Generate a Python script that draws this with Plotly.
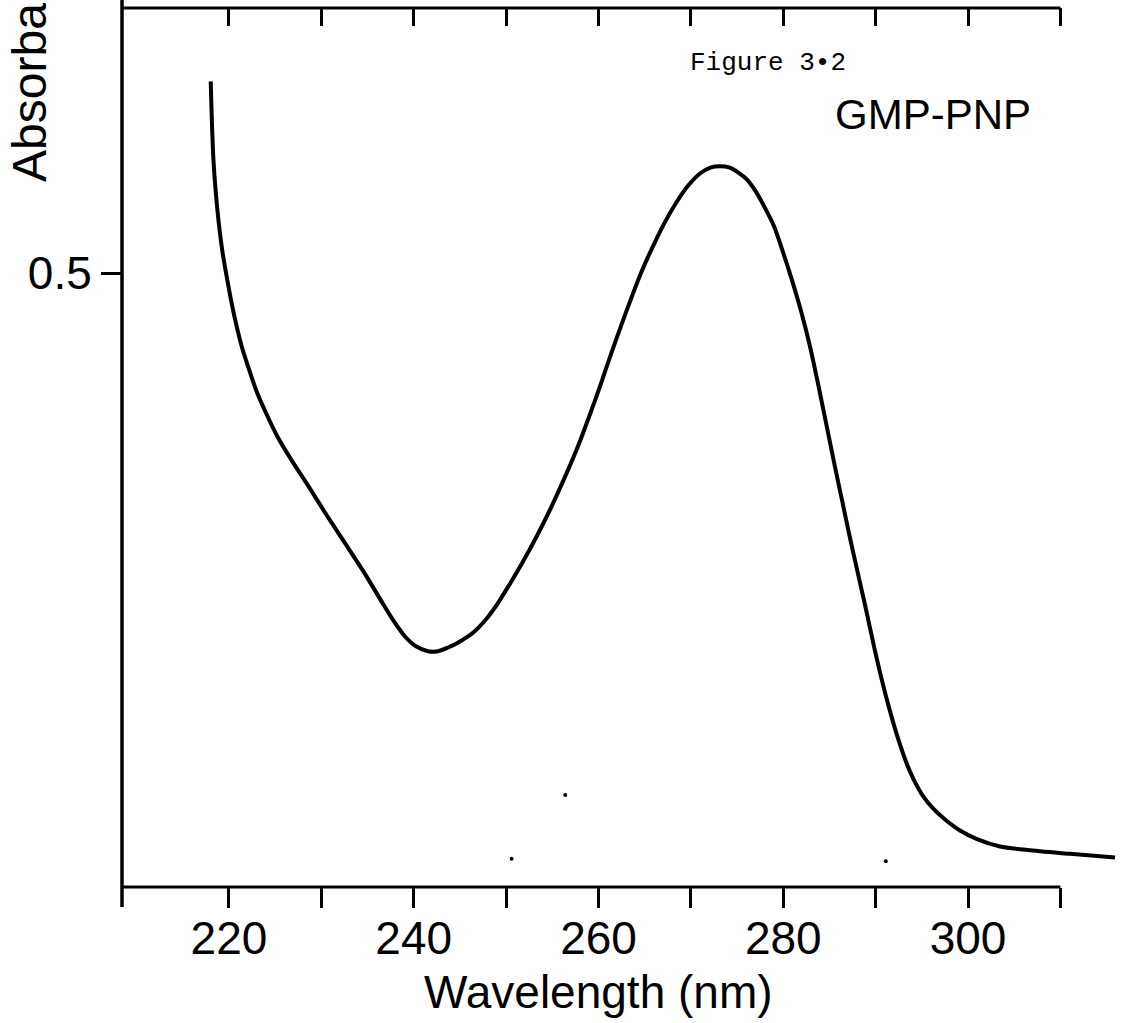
import plotly.graph_objects as go

# Spectrum
wavelength_nm = [218.02, 218.16, 218.32, 218.59, 218.92, 219.30, 219.73, 220.22, 220.76, 221.35,
                 222.06, 222.92, 224.01, 225.30, 226.82, 228.55, 230.39, 232.56, 234.72, 236.56,
                 237.97, 239.05, 240.24, 241.54, 242.63, 243.71, 245.01, 246.41, 247.71, 249.01,
                 250.42, 251.83, 253.34, 254.86, 256.37, 257.78, 259.08, 260.27, 261.35, 262.44,
                 263.52, 264.60, 265.79, 267.09, 268.39, 269.69, 270.99, 272.18, 273.15, 274.13,
                 275.10, 276.08, 277.05, 278.02, 279.00, 279.97, 280.95, 281.92, 282.90, 283.76,
                 284.63, 285.49, 286.36, 287.23, 288.09, 288.96, 289.82, 290.69, 291.56, 292.42,
                 293.29, 294.15, 295.13, 296.21, 297.51, 299.13, 300.97, 303.46, 306.71, 311.04,
                 315.91]
absorbance = [0.656, 0.621, 0.592, 0.564, 0.539, 0.517, 0.498, 0.478, 0.459, 0.441,
              0.424, 0.405, 0.386, 0.366, 0.347, 0.327, 0.305, 0.280, 0.255, 0.232,
              0.215, 0.204, 0.196, 0.192, 0.192, 0.195, 0.200, 0.207, 0.217, 0.230,
              0.247, 0.265, 0.286, 0.309, 0.334, 0.359, 0.385, 0.410, 0.434, 0.457,
              0.479, 0.500, 0.520, 0.540, 0.557, 0.571, 0.581, 0.586, 0.587, 0.586,
              0.582, 0.576, 0.566, 0.553, 0.538, 0.517, 0.494, 0.469, 0.440, 0.410,
              0.378, 0.346, 0.315, 0.284, 0.255, 0.226, 0.196, 0.168, 0.143, 0.121,
              0.102, 0.087, 0.074, 0.064, 0.055, 0.046, 0.039, 0.033, 0.030, 0.027,
              0.024]

# stray specks on the scanned page
speck_x = [256.4, 250.6, 291.1]
speck_y = [0.075, 0.023, 0.021]

x_ticks = [220, 230, 240, 250, 260, 270, 280, 290, 300, 310]
x_ticktext = ["220", "", "240", "", "260", "", "280", "", "300", ""]
y_ticks = [0.5]
y_ticktext = ["0.5"]

X_RANGE = [208.42, 316.45]
Y_RANGE = [0.0, 0.7158]
AXIS_END = 310

SANS = "Liberation Sans, Arial, sans-serif"
MONO = "Courier New, Liberation Mono, monospace"

fig = go.Figure()
fig.add_trace(go.Scatter(x=wavelength_nm, y=absorbance, mode="lines",
                         line=dict(color="black", width=4, shape="spline", smoothing=0.8),
                         hoverinfo="skip"))
fig.add_trace(go.Scatter(x=speck_x, y=speck_y, mode="markers",
                         marker=dict(color="black", size=4), hoverinfo="skip"))
# invisible trace for the top axis
fig.add_trace(go.Scatter(x=[X_RANGE[0]], y=[Y_RANGE[0]], xaxis="x2", mode="markers",
                         marker=dict(opacity=0), hoverinfo="skip"))

fig.update_layout(
    width=1122, height=1023,
    margin=dict(l=122, r=2, t=8, b=136),
    paper_bgcolor="white", plot_bgcolor="white",
    showlegend=False,
    xaxis=dict(range=X_RANGE, showgrid=False, zeroline=False, showline=False,
               ticks="outside", ticklen=20, tickwidth=3, tickcolor="black",
               tickmode="array", tickvals=x_ticks, ticktext=x_ticktext,
               ticklabelstandoff=-9,
               tickfont=dict(family=SANS, size=46, color="black")),
    xaxis2=dict(range=X_RANGE, overlaying="x", side="top", showgrid=False, zeroline=False,
                showline=False, ticks="inside", ticklen=18, tickwidth=3, tickcolor="black",
                tickmode="array", tickvals=x_ticks, showticklabels=False),
    yaxis=dict(range=Y_RANGE, showgrid=False, zeroline=False, showline=False,
               ticks="outside", ticklen=20, tickwidth=3, tickcolor="black",
               tickmode="array", tickvals=y_ticks, ticktext=y_ticktext,
               tickfont=dict(family=SANS, size=46, color="black")),
    shapes=[
        dict(type="line", xref="paper", yref="paper", x0=0, x1=0, y0=-0.0228, y1=1.0091,
             line=dict(color="black", width=3.5)),
        dict(type="line", xref="x", yref="paper", x0=X_RANGE[0], x1=AXIS_END, y0=0, y1=0,
             line=dict(color="black", width=3)),
        dict(type="line", xref="x", yref="paper", x0=X_RANGE[0], x1=AXIS_END, y0=1, y1=1,
             line=dict(color="black", width=3)),
    ],
    annotations=[
        dict(text="Absorbance", xref="paper", yref="paper", x=-0.0922, y=0.9477,
             textangle=-90, showarrow=False, xanchor="center", yanchor="middle",
             font=dict(family=SANS, size=48, color="black")),
        dict(text="Wavelength (nm)", xref="x", yref="paper", x=260.05, y=-0.1190,
             showarrow=False, xanchor="center", yanchor="middle",
             font=dict(family=SANS, size=46, color="black")),
        dict(text="Figure 3•2", xref="x", yref="paper", x=269.69, y=0.9374,
             showarrow=False, xanchor="left", yanchor="middle",
             font=dict(family=MONO, size=26, color="black")),
        dict(text="GMP-PNP", xref="x", yref="paper", x=285.39, y=0.8783,
             showarrow=False, xanchor="left", yanchor="middle",
             font=dict(family=SANS, size=42, color="black")),
    ],
)

fig.write_html("out.html")
